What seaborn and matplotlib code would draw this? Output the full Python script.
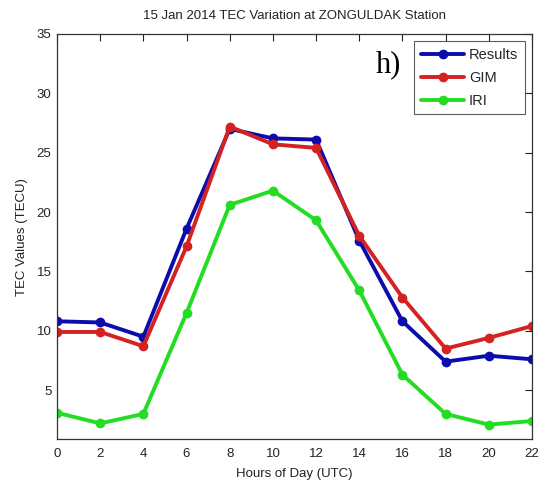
import matplotlib
matplotlib.use("Agg")
import matplotlib.pyplot as plt
import seaborn as sns
import pandas as pd

hours = [0, 2, 4, 6, 8, 10, 12, 14, 16, 18, 20, 22]
results = [10.8, 10.7, 9.5, 18.6, 27.0, 26.2, 26.1, 17.6, 10.8, 7.4, 7.9, 7.6]
gim = [9.9, 9.9, 8.7, 17.1, 27.2, 25.7, 25.4, 18.0, 12.8, 8.5, 9.4, 10.4]
iri = [3.1, 2.2, 3.0, 11.5, 20.6, 21.8, 19.3, 13.4, 6.3, 3.0, 2.1, 2.4]
series_names = ["Results", "GIM", "IRI"]
colors = ["#0c0cac", "#d42222", "#22dd22"]

df = pd.DataFrame({
    "hour": hours * 3,
    "tec": results + gim + iri,
    "series": [n for n in series_names for _ in hours],
})

sns.set_theme(style="white")
plt.rcParams["font.family"] = ["Liberation Sans", "DejaVu Sans"]

fig = plt.figure(figsize=(5.45, 4.91), dpi=100)
ax = fig.add_axes([0.1046, 0.105, 0.8715, 0.826])

sns.lineplot(data=df, x="hour", y="tec", hue="series", hue_order=series_names,
             palette=colors, marker="o", markersize=7, markeredgewidth=0,
             linewidth=2.8, ax=ax)

ax.set_xlim(0, 22)
ax.set_ylim(0.85, 35)
ax.set_xticks(hours)
ax.set_yticks([5, 10, 15, 20, 25, 30, 35])
ax.tick_params(direction="in", length=5, width=0.8, top=True, right=True,
               labelsize=9.5, colors="#222222")
ax.tick_params(axis="x", pad=6)
ax.tick_params(axis="y", pad=4)
for s in ax.spines.values():
    s.set_color("#333333")
    s.set_linewidth(0.9)

ax.set_xlabel("Hours of Day (UTC)", fontsize=9.5, color="#222222", labelpad=6)
ax.set_ylabel("TEC Values (TECU)", fontsize=9.5, color="#222222", labelpad=6)
ax.set_title("15 Jan 2014 TEC Variation at ZONGULDAK Station", fontsize=9.5,
             color="#222222", pad=11)

ax.text(0.672, 0.925, "h)", transform=ax.transAxes, fontsize=22,
        family="Liberation Serif", color="black", va="center")

leg = ax.legend(loc="upper right", fontsize=10.5, frameon=True, fancybox=False,
                borderaxespad=0.5, handlelength=3.0, handletextpad=0.3,
                labelspacing=0.62, borderpad=0.45, markerscale=1.0)
leg.get_frame().set_edgecolor("#333333")
leg.get_frame().set_linewidth(0.8)
leg.set_title(None)

fig.savefig("out.png", dpi=100)
